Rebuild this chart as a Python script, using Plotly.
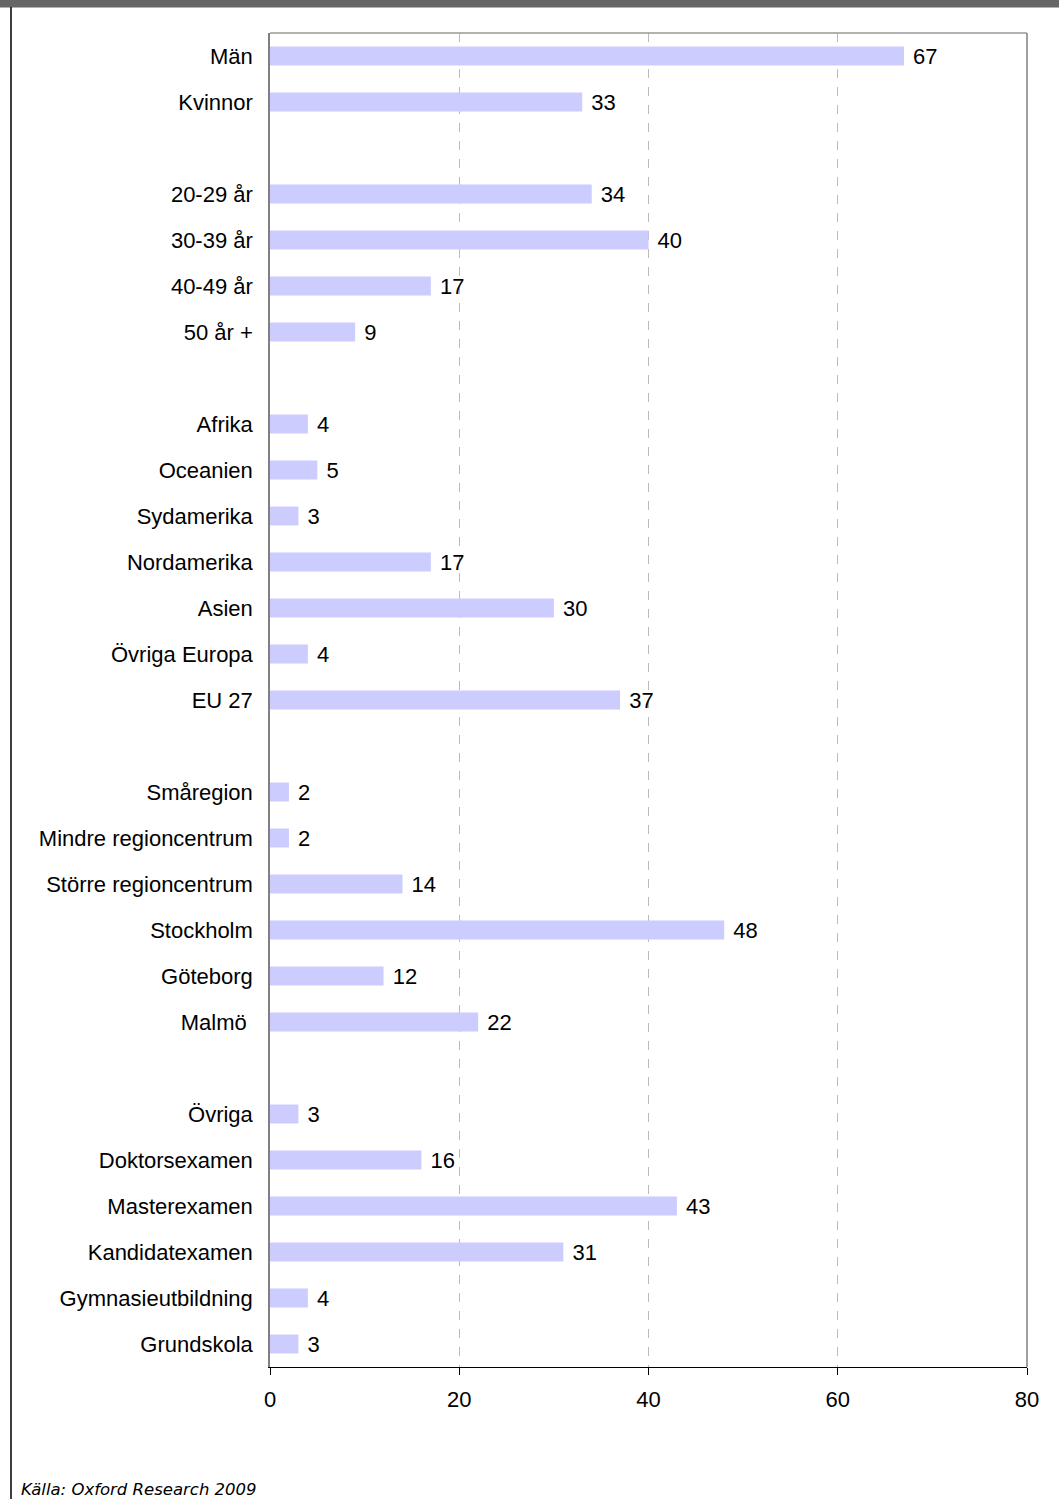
import plotly.graph_objects as go

# Data groups (top to bottom)
gender_labels = ["Män", "Kvinnor"]
gender_values = [67, 33]
age_labels = ["20-29 år", "30-39 år", "40-49 år", "50 år +"]
age_values = [34, 40, 17, 9]
origin_labels = ["Afrika", "Oceanien", "Sydamerika", "Nordamerika", "Asien", "Övriga Europa", "EU 27"]
origin_values = [4, 5, 3, 17, 30, 4, 37]
region_labels = ["Småregion", "Mindre regioncentrum", "Större regioncentrum", "Stockholm", "Göteborg", "Malmö\u00a0"]
region_values = [2, 2, 14, 48, 12, 22]
edu_labels = ["Övriga", "Doktorsexamen", "Masterexamen", "Kandidatexamen", "Gymnasieutbildning", "Grundskola"]
edu_values = [3, 16, 43, 31, 4, 3]
x_ticks = [0, 20, 40, 60, 80]
source_text = "Källa: Oxford Research 2009"

groups = [(gender_labels, gender_values), (age_labels, age_values),
          (origin_labels, origin_values), (region_labels, region_values),
          (edu_labels, edu_values)]

cats, vals = [], []
for gi, (labs, vs) in enumerate(groups):
    if gi > 0:
        cats.append("\u200b" * gi)  # blank spacer row
        vals.append(None)
    cats.extend(labs)
    vals.extend(vs)

texts = ["\u00a0" + str(v) if v is not None else "" for v in vals]

FS = 22

fig = go.Figure(go.Bar(
    x=vals, y=cats, orientation="h",
    marker=dict(color="#CCCCFF", line=dict(width=0)),
    text=texts, textposition="outside", cliponaxis=False,
    constraintext="none",
    textfont=dict(family="Liberation Sans, Arial", size=FS, color="black"),
    hoverinfo="skip",
))

W, H = 1059, 1499
L, R, T, B = 270, 32, 33, 132
plot_h = H - T - B
plot_w = W - L - R

def py(pix):
    return 1 - (pix - T) / plot_h

def px(pix):
    return (pix - L) / plot_w

fig.update_layout(
    width=W, height=H,
    margin=dict(l=L, r=R, t=T, b=B, pad=0),
    paper_bgcolor="white", plot_bgcolor="white",
    showlegend=False,
    bargap=0.587,
    font=dict(family="Liberation Sans, Arial", size=FS, color="black"),
    xaxis=dict(range=[0, 80], tickvals=x_ticks, ticks="outside", ticklen=7,
               tickcolor="black", showline=True, linecolor="black", linewidth=1,
               showgrid=True, gridcolor="#BBBBBB", griddash="dash", gridwidth=1,
               zeroline=False, mirror=False, tickfont=dict(size=FS),
               ticklabelstandoff=6, fixedrange=True),
    yaxis=dict(categoryorder="array", categoryarray=cats, autorange="reversed",
               showline=True, linecolor="#808080", linewidth=1.5, ticks="",
               showgrid=False, zeroline=False, ticklabelstandoff=11,
               tickfont=dict(size=FS), fixedrange=True),
    shapes=[
        # top dark band
        dict(type="rect", xref="paper", yref="paper", x0=px(-2), x1=px(W + 2),
             y0=py(7.5), y1=py(-2), fillcolor="#666666", line=dict(width=0), layer="above"),
        # left border line
        dict(type="line", xref="paper", yref="paper", x0=px(11), x1=px(11),
             y0=py(7), y1=py(H + 2), line=dict(color="black", width=1.5)),
        # plot top and right border
        dict(type="line", xref="paper", yref="paper", x0=0, x1=1, y0=1, y1=1,
             line=dict(color="#999999", width=1.5)),
        dict(type="line", xref="paper", yref="paper", x0=1, x1=1, y0=0, y1=1,
             line=dict(color="#808080", width=1.5)),
    ],
    annotations=[
        dict(text=source_text, xref="paper", yref="paper", x=px(19), y=py(1501),
             xanchor="left", yanchor="bottom", showarrow=False,
             font=dict(family="DejaVu Sans, Verdana", size=16.5, color="black", style="italic")),
    ],
)

fig.write_html("out.html", config={"displayModeBar": False},
               post_script="document.body.style.margin='0';document.body.style.overflow='hidden';")
